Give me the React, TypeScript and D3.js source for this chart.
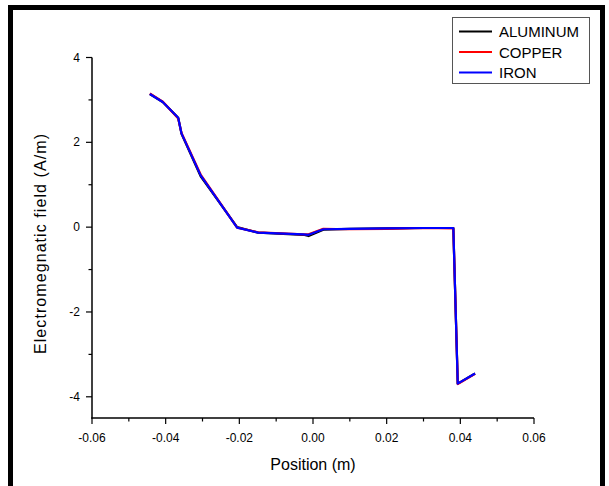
import React from "react";
import * as d3 from "d3";

const positions = [-0.0443, -0.0408, -0.0366, -0.0357, -0.0305, -0.0206, -0.0149, -0.0026, -0.0012, 0.0028, 0.01, 0.02, 0.03, 0.0381, 0.0393, 0.044];
const aluminum = [3.14, 2.95, 2.58, 2.2, 1.2, 0.0, -0.13, -0.18, -0.21, -0.06, -0.04, -0.03, -0.02, -0.02, -3.69, -3.45];
const copper = [3.15, 2.96, 2.56, 2.22, 1.24, -0.01, -0.12, -0.17, -0.17, -0.04, -0.05, -0.04, -0.02, -0.03, -3.7, -3.46];
const iron = [3.14, 2.95, 2.58, 2.21, 1.22, -0.01, -0.13, -0.17, -0.18, -0.05, -0.04, -0.03, -0.02, -0.02, -3.69, -3.45];

const seriesNames = ["ALUMINUM", "COPPER", "IRON"];
const seriesColors = ["#000000", "#ff0000", "#0000ff"];
const seriesValues = [aluminum, copper, iron];

const xMajor = [-0.06, -0.04, -0.02, 0, 0.02, 0.04, 0.06];
const xMinor = [-0.05, -0.03, -0.01, 0.01, 0.03, 0.05];
const yMajor = [-4, -2, 0, 2, 4];
const yMinor = [-3, -1, 1, 3];

const FONT = "Arial, 'Liberation Sans', sans-serif";

export default function App() {
  const x = d3.scaleLinear().domain([-0.06, 0.06]).range([92, 534]);
  const y = d3.scaleLinear().domain([-4.5, 4]).range([418, 57.5]);
  const line = d3
    .line<[number, number]>()
    .x((d) => x(d[0]))
    .y((d) => y(d[1]));

  return (
    <svg
      width={609}
      height={486}
      style={{ position: "absolute", left: 0, top: 0, background: "#fff" }}
    >
      <rect x={0} y={0} width={609} height={486} fill="#fff" />
      <rect x={10.5} y={7.5} width={592} height={500} fill="none" stroke="#000" strokeWidth={5} />

      {seriesValues.map((vals, i) => (
        <path
          key={seriesNames[i]}
          d={line(positions.map((p, j) => [p, vals[j]] as [number, number])) || ""}
          fill="none"
          stroke={seriesColors[i]}
          strokeWidth={2.2}
          strokeLinejoin="round"
        />
      ))}

      {/* axes */}
      <line x1={92} x2={92} y1={y(4)} y2={418.5} stroke="#000" strokeWidth={1.5} />
      <line x1={91.25} x2={534} y1={418} y2={418} stroke="#000" strokeWidth={1.5} />

      {xMajor.map((t) => (
        <g key={"xm" + t}>
          <line x1={x(t)} x2={x(t)} y1={418} y2={424} stroke="#000" strokeWidth={1.2} />
          <text x={x(t)} y={442} textAnchor="middle" fontFamily={FONT} fontSize={12}>
            {t.toFixed(2)}
          </text>
        </g>
      ))}
      {xMinor.map((t) => (
        <line key={"xn" + t} x1={x(t)} x2={x(t)} y1={418} y2={421.5} stroke="#000" strokeWidth={1.2} />
      ))}

      {yMajor.map((t) => (
        <g key={"ym" + t}>
          <line x1={86} x2={92} y1={y(t)} y2={y(t)} stroke="#000" strokeWidth={1.2} />
          <text x={80} y={y(t) + 4} textAnchor="end" fontFamily={FONT} fontSize={12}>
            {t}
          </text>
        </g>
      ))}
      {yMinor.map((t) => (
        <line key={"yn" + t} x1={88.5} x2={92} y1={y(t)} y2={y(t)} stroke="#000" strokeWidth={1.2} />
      ))}

      <text x={313} y={470} textAnchor="middle" fontFamily={FONT} fontSize={16}>
        Position (m)
      </text>
      <text
        transform={`translate(46,244) rotate(-90)`}
        textAnchor="middle"
        fontFamily={FONT}
        fontSize={16}
        textLength={220}
        lengthAdjust="spacing"
      >
        Electromegnatic field (A/m)
      </text>

      {/* legend */}
      <rect x={452.5} y={17.5} width={137} height={66} fill="#fff" stroke="#555" strokeWidth={1} />
      {seriesNames.map((n, i) => (
        <g key={"lg" + n}>
          <line x1={459} x2={492} y1={31.5 + i * 20.5} y2={31.5 + i * 20.5} stroke={seriesColors[i]} strokeWidth={1.8} />
          <text x={499} y={31.5 + i * 20.5 + 5.5} fontFamily={FONT} fontSize={15}>
            {n}
          </text>
        </g>
      ))}
    </svg>
  );
}
